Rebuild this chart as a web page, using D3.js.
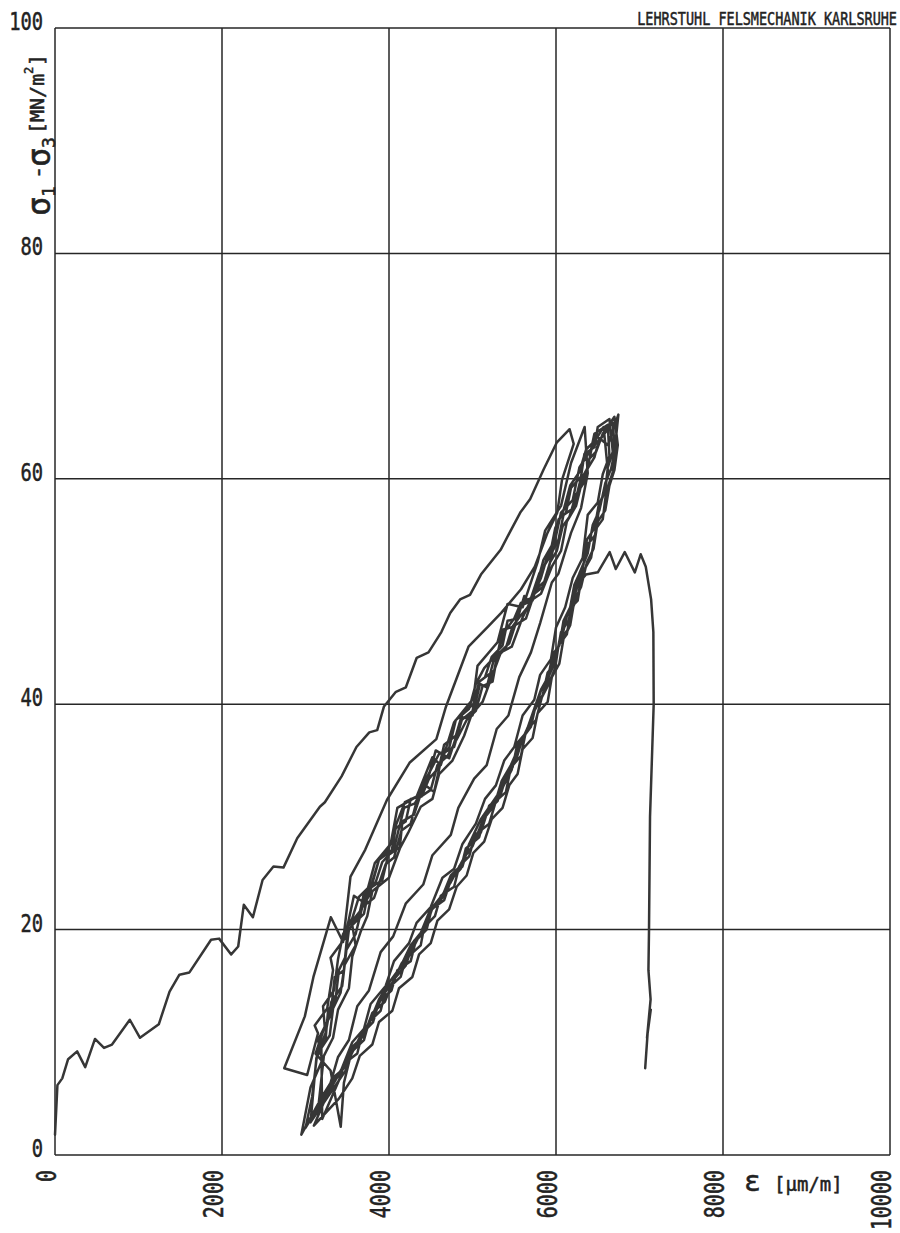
<!DOCTYPE html>
<html>
<head>
<meta charset="utf-8">
<script src="https://cdn.jsdelivr.net/npm/d3@7"></script>
<style>
    body { margin: 0; background: #fff; }
    text { font-family: "DejaVu Sans Mono", monospace; fill: #222; stroke: #222; stroke-width: 0.5px; }
</style>
</head>
<body>
<div id="chart"></div>
<script>

// axis ticks
const strainTicks = [0, 2000, 4000, 6000, 8000, 10000];
const stressTicks = [0, 20, 40, 60, 80, 100];
const strainLabels = ["0", "2000", "4000", "6000", "8000", "10000"];
const stressLabels = ["0", "20", "40", "60", "80", "100"];

const firstLoad = [[0,1.8],[29,6.2],[87,6.8],[157,8.5],[265,9.2],[362,7.8],[479,10.3],[587,9.5],[683,9.8],[896,12.0],[1018,10.4],[1243,11.6],[1372,14.5],[1490,16.0],[1610,16.2],[1869,19.1],[1965,19.2],[2110,17.8],[2194,18.5],[2261,22.2],[2370,21.1],[2486,24.4],[2616,25.6],[2736,25.5],[2901,28.1],[3172,30.9],[3232,31.3],[3432,33.6],[3610,36.2],[3764,37.5],[3859,37.7],[3940,39.8],[4083,41.1],[4202,41.5],[4331,44.1],[4473,44.6],[4627,46.4],[4733,48.1],[4851,49.3],[4970,49.7],[5101,51.5],[5337,53.7],[5443,55.2],[5572,57.0],[5691,58.2],[5850,60.8],[6008,63.2],[6163,64.4]];
const firstUnload = [[6212,63.1],[6072,59.9],[6015,57.0],[5898,55.2],[5746,52.2],[5581,50.2],[5344,48.1],[5189,46.9],[4952,45.1],[4683,39.8],[4567,36.9],[4246,34.8],[3975,31.5],[3716,27.1],[3539,24.7],[3450,18.9],[3304,21.1],[3095,15.8],[2992,12.3],[2745,7.7]];

const load1 = [[3020,7.1],[3150,10.8],[3110,11.5],[3260,13.0],[3330,16.4],[3300,17.5],[3470,19.2],[3580,23.0],[3700,22.4],[3830,25.9],[4020,27.6],[4100,30.8],[4330,31.8],[4520,35.3],[4620,34.6],[4780,38.4],[5010,40.5],[5060,43.4],[5300,45.5],[5420,48.9],[5600,48.6],[5780,52.6],[5870,55.4],[6060,57.6],[6180,61.4],[6343,64.6]];
const unload1 = [[6380,60.5],[6300,57.4],[6180,55.2],[6030,51.6],[5950,50.8],[5810,47.2],[5700,44.6],[5560,42.4],[5430,39.0],[5290,37.8],[5170,34.6],[5020,33.4],[4830,30.8],[4740,28.4],[4520,26.6],[4410,24.0],[4200,22.3],[4050,19.4],[3900,18.0],[3760,14.6],[3620,13.2],[3520,10.2],[3390,8.7],[3300,6.4],[3200,5.2],[2950,1.8]];

const load2 = [[3060,6.0],[3200,8.4],[3150,10.2],[3300,12.4],[3350,15.8],[3460,16.4],[3510,20.3],[3650,21.6],[3760,23.0],[3880,26.2],[4060,27.2],[4180,30.8],[4310,31.2],[4460,33.2],[4560,35.9],[4720,35.2],[4870,38.6],[5000,39.4],[5080,42.0],[5260,43.0],[5360,46.6],[5500,46.9],[5590,48.8],[5720,49.2],[5850,52.8],[5990,54.6],[6060,57.0],[6200,58.1],[6280,61.0],[6420,62.6],[6460,64.0],[6620,64.8]];
const unload2 = [[6640,62.0],[6560,60.4],[6500,57.9],[6380,56.8],[6320,53.0],[6200,51.2],[6110,48.6],[6000,46.8],[5940,44.0],[5810,42.6],[5740,40.4],[5600,39.0],[5500,36.2],[5380,35.0],[5280,32.8],[5150,31.6],[5040,29.4],[4880,27.6],[4780,25.4],[4640,24.6],[4500,22.0],[4330,20.6],[4240,18.8],[4060,17.2],[3960,15.0],[3780,13.4],[3700,11.2],[3560,10.0],[3420,7.4],[3150,4.0]];

const load3 = [[3220,8.8],[3330,10.4],[3390,12.9],[3520,14.8],[3560,17.6],[3660,19.8],[3740,21.2],[3800,23.4],[4000,24.6],[4130,27.2],[4230,28.6],[4380,30.9],[4520,31.6],[4600,33.8],[4760,35.0],[4900,37.2],[4990,39.1],[5120,40.2],[5250,42.8],[5340,44.6],[5470,45.1],[5600,47.7],[5700,49.2],[5820,49.8],[5950,52.2],[6060,53.6],[6130,56.2],[6240,57.6],[6330,60.3],[6460,61.9],[6520,63.6],[6620,63.0],[6747,65.7]];
const unload3 = [[6700,62.3],[6660,60.9],[6590,59.6],[6520,57.2],[6440,55.9],[6380,53.4],[6280,51.6],[6200,49.2],[6130,47.8],[6060,45.6],[5990,44.4],[5900,42.1],[5850,40.9],[5740,39.4],[5660,37.6],[5540,36.4],[5470,34.2],[5360,32.6],[5240,31.3],[5100,29.8],[4960,27.6],[4880,25.8],[4740,24.8],[4620,22.6],[4490,21.6],[4400,19.9],[4260,18.6],[4130,16.6],[4010,15.4],[3880,13.8],[3760,11.6],[3660,10.6],[3540,8.8],[3460,6.4],[3422,2.5]];

const load4 = [[3300,7.5],[3120,9.0],[3230,11.4],[3210,13.2],[3340,14.6],[3390,17.4],[3450,19.6],[3560,21.0],[3640,22.9],[3790,24.0],[3880,26.2],[3990,27.0],[4080,29.2],[4190,31.3],[4360,31.9],[4460,33.6],[4600,35.6],[4720,36.1],[4800,38.6],[4960,39.6],[5040,41.8],[5140,43.2],[5290,44.4],[5380,46.4],[5500,47.6],[5580,49.0],[5700,49.4],[5800,51.6],[5920,53.0],[5990,55.6],[6090,57.2],[6170,59.4],[6280,60.6],[6360,62.6],[6470,63.4],[6570,64.6]];
const unload4 = [[6620,60.8],[6590,59.0],[6520,57.6],[6470,55.0],[6380,54.2],[6300,51.4],[6220,49.6],[6150,47.4],[6060,46.4],[6000,43.9],[5920,42.6],[5820,41.3],[5740,39.6],[5660,37.9],[5580,36.6],[5460,34.6],[5350,33.2],[5260,31.0],[5130,29.8],[5000,27.4],[4900,26.4],[4740,24.2],[4640,23.1],[4490,21.7],[4380,19.7],[4290,18.4],[4150,17.0],[4050,15.4],[3920,14.1],[3820,12.4],[3700,11.0],[3600,9.6],[3480,8.4],[3400,6.6],[3200,3.2]];

const load5 = [[3190,9.5],[3290,10.6],[3330,13.0],[3420,14.4],[3470,16.9],[3600,18.6],[3560,20.4],[3700,21.4],[3760,23.6],[3920,24.4],[3990,26.6],[4130,27.3],[4160,29.6],[4300,30.2],[4420,32.9],[4540,32.2],[4640,35.6],[4780,36.2],[4880,38.8],[5000,39.0],[5090,41.8],[5170,41.5],[5250,43.8],[5400,45.0],[5480,46.9],[5570,47.8],[5660,48.6],[5760,50.2],[5880,51.0],[5960,53.6],[6030,54.6],[6090,56.8],[6210,57.4],[6290,59.8],[6380,61.0],[6430,62.8],[6540,63.6],[6680,65.0]];
const unload5 = [[6710,62.0],[6680,60.6],[6600,58.8],[6560,56.4],[6480,55.6],[6420,53.0],[6330,51.8],[6260,49.6],[6170,48.0],[6130,46.2],[6030,45.2],[5990,43.2],[5900,41.6],[5830,40.6],[5760,38.6],[5640,37.6],[5580,35.4],[5460,34.4],[5400,32.2],[5280,31.4],[5200,29.4],[5030,28.4],[4960,26.5],[4840,25.6],[4780,23.8],[4620,23.0],[4550,21.2],[4420,20.2],[4380,18.6],[4200,17.4],[4140,15.8],[3960,14.6],[3900,12.8],[3760,11.8],[3700,10.2],[3560,9.2],[3490,7.6],[3060,2.9]];

const load6 = [[3130,8.6],[3240,10.2],[3270,12.8],[3360,13.8],[3400,16.4],[3480,17.6],[3520,20.0],[3640,21.2],[3700,23.2],[3840,24.2],[3920,26.0],[4030,26.9],[4080,29.0],[4200,29.6],[4260,31.6],[4390,31.8],[4480,33.4],[4600,34.4],[4660,36.4],[4800,37.2],[4880,39.2],[5010,40.0],[5080,42.0],[5150,42.4],[5230,44.2],[5360,45.2],[5420,47.4],[5540,47.6],[5620,49.6],[5690,49.0],[5820,51.2],[5900,53.2],[5980,54.0],[6030,56.4],[6120,57.0],[6180,59.2],[6300,60.2],[6340,62.2],[6460,62.8],[6500,64.6],[6640,65.3]];
const unload6 = [[6680,62.4],[6620,61.0],[6590,59.0],[6510,57.6],[6460,55.6],[6370,54.6],[6330,52.4],[6220,50.6],[6170,48.6],[6090,47.4],[6040,45.2],[5960,44.4],[5900,42.2],[5820,41.2],[5740,39.4],[5680,37.8],[5540,36.6],[5480,34.4],[5370,33.4],[5300,31.4],[5160,30.4],[5080,28.2],[4920,27.2],[4860,25.4],[4740,24.4],[4660,22.6],[4510,21.8],[4450,20.0],[4320,19.0],[4260,17.2],[4100,16.4],[4030,14.6],[3880,13.6],[3810,11.8],[3680,10.8],[3620,9.0],[3480,8.2],[3000,2.4]];

const load7 = [[3080,5.2],[3140,9.0],[3240,10.8],[3310,13.6],[3440,15.0],[3490,18.2],[3600,19.6],[3680,22.0],[3820,22.8],[3960,25.8],[4060,26.4],[4150,28.8],[4260,29.4],[4340,31.6],[4500,32.4],[4580,34.6],[4700,35.4],[4820,37.0],[4930,38.6],[5040,39.4],[5120,41.6],[5240,42.0],[5300,44.4],[5440,45.4],[5510,47.0],[5640,47.6],[5740,49.8],[5840,50.4],[5930,52.6],[6010,53.6],[6080,55.8],[6160,56.6],[6240,58.6],[6330,59.6],[6400,61.8],[6480,62.4],[6560,64.0],[6700,65.5]];
const unload7 = [[6740,63.0],[6700,60.8],[6640,59.4],[6590,57.2],[6500,56.2],[6450,53.8],[6370,52.6],[6300,50.4],[6220,49.2],[6170,47.0],[6090,45.8],[6040,43.6],[5950,42.4],[5900,40.2],[5780,39.2],[5720,37.0],[5600,36.0],[5540,33.8],[5440,32.8],[5360,30.8],[5230,29.8],[5140,27.8],[5010,26.8],[4930,24.8],[4810,23.8],[4720,21.8],[4580,20.8],[4500,18.8],[4360,17.8],[4280,15.8],[4120,14.8],[4040,12.8],[3880,11.8],[3800,9.8],[3650,8.8],[3560,6.8],[3400,5.0],[3100,2.6]];

const finalLoad = [[3250,5.2],[3350,7.0],[3480,7.8],[3560,9.6],[3700,10.6],[3800,12.6],[3950,13.6],[4060,15.6],[4200,16.8],[4300,19.0],[4430,20.0],[4520,21.9],[4660,23.0],[4760,24.8],[4880,25.6],[4960,27.6],[5100,28.6],[5200,31.0],[5330,31.8],[5420,34.0],[5520,35.0],[5600,37.0],[5700,38.0],[5760,40.0],[5840,40.8],[5900,42.8],[5990,43.6],[6040,45.6],[6140,46.6],[6180,48.6],[6260,49.2],[6300,51.0],[6358,51.5]];
const failure = [[6501,51.7],[6643,53.5],[6716,52.0],[6823,53.5],[6944,51.7],[7014,53.3],[7075,52.2],[7139,49.3],[7166,46.4],[7170,40.0],[7126,30.0],[7114,20.0],[7107,16.4],[7133,13.8],[7090,10.4],[7135,12.9],[7100,11.1],[7068,7.7]];


class HysteresisPlot {

    constructor(parentElement) {
        this.parentElement = parentElement;
        this.record = [].concat(firstLoad, firstUnload,
            load1, unload1, load2, unload2, load3, unload3,
            load4, unload4, load5, unload5, load6, unload6,
            load7, unload7, finalLoad, failure);
        this.initVis();
    }

    initVis() {
        let vis = this;

        vis.margin = {top: 28, right: 10, bottom: 78, left: 55};
        vis.width = 900 - vis.margin.left - vis.margin.right;
        vis.height = 1233 - vis.margin.top - vis.margin.bottom;

        vis.root = d3.select("#" + vis.parentElement).append("svg")
            .attr("width", 900)
            .attr("height", 1233);

        vis.svg = vis.root.append("g")
            .attr("transform", "translate(" + vis.margin.left + "," + vis.margin.top + ")");

        vis.x = d3.scaleLinear().domain([0, 10000]).range([0, vis.width]);
        vis.y = d3.scaleLinear().domain([0, 100]).range([vis.height, 0]);

        // grid (also forms the frame)
        vis.svg.selectAll(".vgrid")
            .data(strainTicks)
            .enter().append("line")
            .attr("class", "vgrid")
            .attr("x1", d => vis.x(d)).attr("x2", d => vis.x(d))
            .attr("y1", 0).attr("y2", vis.height)
            .attr("stroke", "#262626")
            .attr("stroke-width", 1.5);

        vis.svg.selectAll(".hgrid")
            .data(stressTicks)
            .enter().append("line")
            .attr("class", "hgrid")
            .attr("x1", 0).attr("x2", vis.width)
            .attr("y1", d => vis.y(d)).attr("y2", d => vis.y(d))
            .attr("stroke", "#262626")
            .attr("stroke-width", 1.5);

        // y tick labels
        vis.svg.selectAll(".ylab")
            .data(stressTicks)
            .enter().append("text")
            .attr("class", "ylab")
            .attr("transform", d => `translate(-12, ${vis.y(d) + 2}) scale(0.75,1)`)
            .attr("text-anchor", "end")
            .style("font-size", "25px")
            .text((d, i) => stressLabels[i]);

        // x tick labels, rotated
        vis.svg.selectAll(".xlab")
            .data(strainTicks)
            .enter().append("text")
            .attr("class", "xlab")
            .attr("transform", d => `translate(${vis.x(d) + 1}, ${vis.height + 15}) rotate(-90) scale(0.77,1)`)
            .attr("text-anchor", "end")
            .style("font-size", "26px")
            .text((d, i) => strainLabels[i]);

        // x axis title
        let xt = vis.root.append("text")
            .attr("x", 744)
            .attr("y", 1191);
        xt.append("tspan").style("font-size", "28px").text("ε");
        xt.append("tspan").attr("x", 774).style("font-size", "19px").text("[μm/m]");

        // y axis title, rotated
        let yt = vis.root.append("text")
            .attr("transform", "translate(0,216) rotate(-90)");
        yt.append("tspan").attr("x", 0).attr("y", 50).style("font-size", "32px").text("σ");
        yt.append("tspan").attr("x", 19).attr("y", 55).style("font-size", "18px").text("1");
        yt.append("tspan").attr("x", 37).attr("y", 45).style("font-size", "22px").text("-");
        yt.append("tspan").attr("x", 49).attr("y", 50).style("font-size", "32px").text("σ");
        yt.append("tspan").attr("x", 68).attr("y", 55).style("font-size", "18px").text("3");
        yt.append("tspan").attr("x", 82).attr("y", 44).style("font-size", "20px").text("[MN/m");
        yt.append("tspan").attr("x", 142).attr("y", 33).style("font-size", "12px").text("2");
        yt.append("tspan").attr("x", 150).attr("y", 44).style("font-size", "20px").text("]");

        // institute header
        vis.root.append("text")
            .attr("transform", "translate(897,25) scale(0.75,1)")
            .attr("text-anchor", "end")
            .style("font-size", "18px")
            .text("LEHRSTUHL FELSMECHANIK KARLSRUHE");

        vis.line = d3.line()
            .x(d => vis.x(d[0]))
            .y(d => vis.y(d[1]));

        this.updateVis();
    }

    updateVis() {
        let vis = this;

        vis.svg.append("path")
            .datum(vis.record)
            .attr("class", "record")
            .attr("d", vis.line)
            .attr("fill", "none")
            .attr("stroke", "#363636")
            .attr("stroke-width", 2.5)
            .attr("stroke-linejoin", "round")
            .attr("stroke-linecap", "round");
    }
}

new HysteresisPlot("chart");
</script>
</body>
</html>
